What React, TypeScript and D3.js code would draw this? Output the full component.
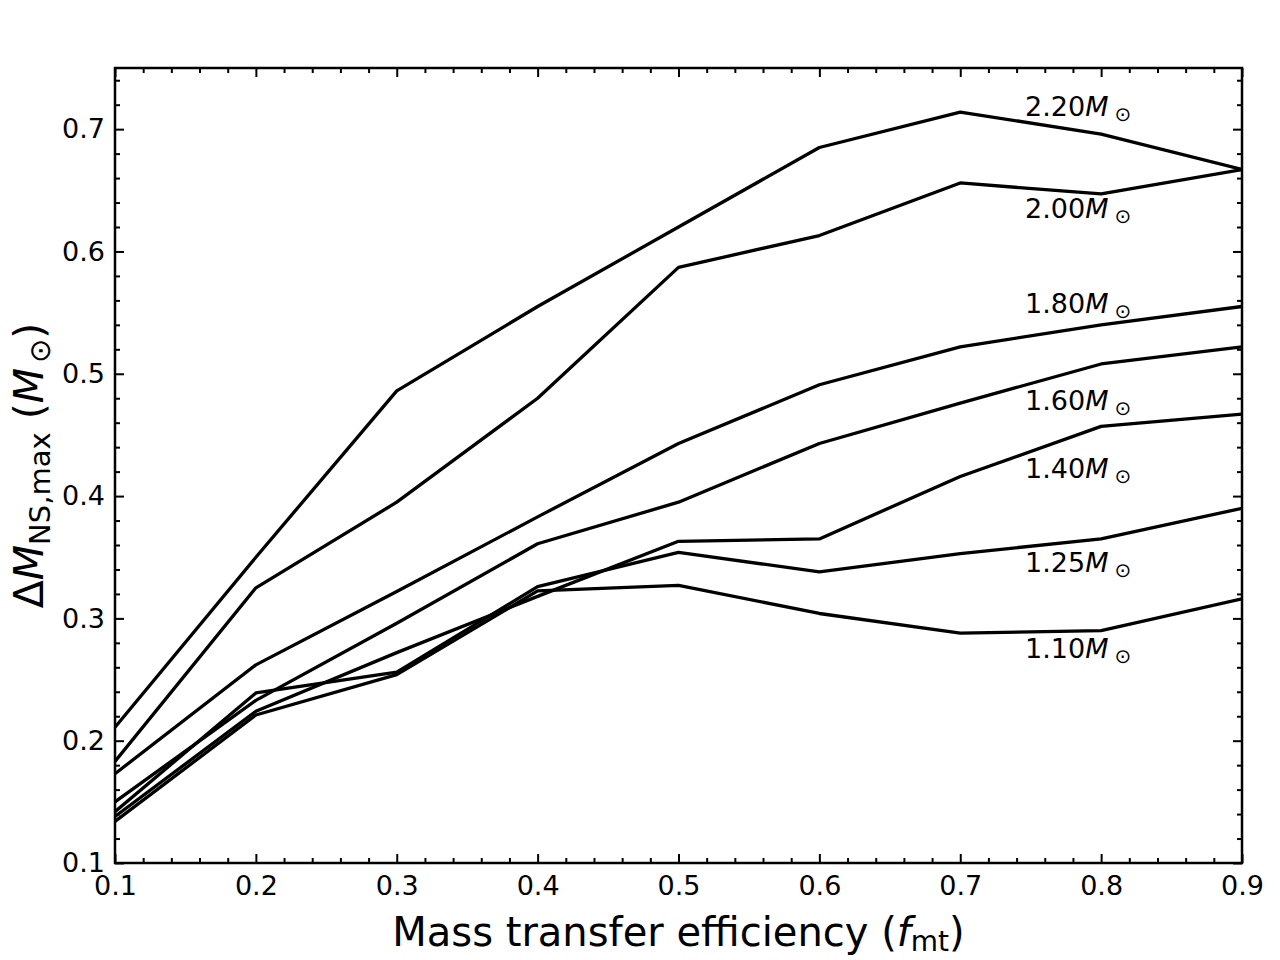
import { useRef, useEffect } from 'react';
import * as d3 from 'd3';

// mass transfer efficiency f_mt
const efficiency = [0.1, 0.2, 0.3, 0.4, 0.5, 0.6, 0.7, 0.8, 0.9];

// max accreted mass per initial NS mass
const dm220 = [0.211, 0.350, 0.486, 0.555, 0.620, 0.685, 0.714, 0.696, 0.667];
const dm200 = [0.183, 0.325, 0.395, 0.480, 0.587, 0.613, 0.656, 0.647, 0.667];
const dm180 = [0.173, 0.262, 0.322, 0.383, 0.443, 0.491, 0.522, 0.540, 0.555];
const dm160 = [0.150, 0.233, 0.296, 0.361, 0.395, 0.443, 0.476, 0.508, 0.522];
const dm140 = [0.138, 0.224, 0.272, 0.318, 0.363, 0.365, 0.416, 0.457, 0.467];
const dm125 = [0.142, 0.239, 0.256, 0.326, 0.354, 0.338, 0.353, 0.365, 0.390];
const dm110 = [0.134, 0.221, 0.254, 0.3225, 0.327, 0.304, 0.288, 0.290, 0.316];

const massLabels = ['2.20', '2.00', '1.80', '1.60', '1.40', '1.25', '1.10'];
const labelY = [0.711, 0.627, 0.550, 0.470, 0.415, 0.338, 0.268];
const labelX = 0.746;

const xTicks = [0.1, 0.2, 0.3, 0.4, 0.5, 0.6, 0.7, 0.8, 0.9];
const yTicks = [0.1, 0.2, 0.3, 0.4, 0.5, 0.6, 0.7];

const W = 1280;
const H = 960;
const margin = { left: 115, right: 38, top: 68, bottom: 97 };
const FONT = '"DejaVu Sans", sans-serif';

export default function App() {
    const svgRef = useRef<SVGSVGElement>(null);

    useEffect(() => {
        if (!svgRef.current) return;
        const svg = d3.select(svgRef.current);
        svg.selectAll('*').remove();

        const series = [dm220, dm200, dm180, dm160, dm140, dm125, dm110];

        const x = d3.scaleLinear().domain([0.1, 0.9]).range([margin.left, W - margin.right]);
        const y = d3.scaleLinear().domain([0.1, 0.75]).range([H - margin.bottom, margin.top]);

        const fmt = d3.format('.1f');
        const xMinor = d3.range(0.1, 0.9001, 0.02).filter(v => Math.abs(v * 10 - Math.round(v * 10)) > 1e-6);
        const yMinor = d3.range(0.1, 0.7501, 0.02).filter(v => Math.abs(v * 10 - Math.round(v * 10)) > 1e-6);

        svg.append('defs').append('clipPath').attr('id', 'plot-clip')
            .append('rect')
            .attr('x', margin.left).attr('y', margin.top)
            .attr('width', W - margin.left - margin.right)
            .attr('height', H - margin.top - margin.bottom);

        // lines
        const line = d3.line<number>()
            .x((_, i) => x(efficiency[i]))
            .y(d => y(d));

        svg.append('g').attr('clip-path', 'url(#plot-clip)')
            .selectAll('path')
            .data(series)
            .enter()
            .append('path')
            .attr('d', d => line(d) as string)
            .attr('fill', 'none')
            .attr('stroke', '#000')
            .attr('stroke-width', 3.3)
            .attr('stroke-linejoin', 'round');

        // axes, ticks pointing inwards on all four sides
        const styleAxis = (g: any, labels: boolean) => {
            g.select('.domain').remove();
            g.selectAll('.tick line').attr('stroke', '#000').attr('stroke-width', 2);
            g.selectAll('.tick text')
                .attr('fill', '#000')
                .style('font-family', FONT)
                .style('font-size', '27px');
            if (!labels) g.selectAll('.tick text').remove();
        };

        const bottom = H - margin.bottom;
        const right = W - margin.right;

        svg.append('g').attr('transform', `translate(0,${bottom})`)
            .call(d3.axisBottom(x).tickValues(xTicks).tickSize(-9).tickPadding(13).tickFormat(d => fmt(d as number)))
            .call(g => styleAxis(g, true));
        svg.append('g').attr('transform', `translate(0,${bottom})`)
            .call(d3.axisBottom(x).tickValues(xMinor).tickSize(-5).tickFormat(() => ''))
            .call(g => styleAxis(g, false));
        svg.append('g').attr('transform', `translate(0,${margin.top})`)
            .call(d3.axisTop(x).tickValues(xTicks).tickSize(-9).tickFormat(() => ''))
            .call(g => styleAxis(g, false));
        svg.append('g').attr('transform', `translate(0,${margin.top})`)
            .call(d3.axisTop(x).tickValues(xMinor).tickSize(-5).tickFormat(() => ''))
            .call(g => styleAxis(g, false));

        svg.append('g').attr('transform', `translate(${margin.left},0)`)
            .call(d3.axisLeft(y).tickValues(yTicks).tickSize(-9).tickPadding(10).tickFormat(d => fmt(d as number)))
            .call(g => styleAxis(g, true));
        svg.append('g').attr('transform', `translate(${margin.left},0)`)
            .call(d3.axisLeft(y).tickValues(yMinor).tickSize(-5).tickFormat(() => ''))
            .call(g => styleAxis(g, false));
        svg.append('g').attr('transform', `translate(${right},0)`)
            .call(d3.axisRight(y).tickValues(yTicks).tickSize(-9).tickFormat(() => ''))
            .call(g => styleAxis(g, false));
        svg.append('g').attr('transform', `translate(${right},0)`)
            .call(d3.axisRight(y).tickValues(yMinor).tickSize(-5).tickFormat(() => ''))
            .call(g => styleAxis(g, false));

        // frame
        svg.append('rect')
            .attr('x', margin.left).attr('y', margin.top)
            .attr('width', W - margin.left - margin.right)
            .attr('height', H - margin.top - margin.bottom)
            .attr('fill', 'none')
            .attr('stroke', '#000')
            .attr('stroke-width', 2.5);

        // mass labels
        const lbl = svg.append('g')
            .style('font-family', FONT)
            .style('font-size', '27px')
            .attr('fill', '#000');
        massLabels.forEach((m, i) => {
            const t = lbl.append('text').attr('x', x(labelX)).attr('y', y(labelY[i]));
            t.append('tspan').text(m);
            t.append('tspan').style('font-style', 'italic').text('M');
            t.append('tspan').attr('dx', 6).attr('dy', 5).style('font-size', '20px').text('\u2299');
        });

        // x label
        const xl = svg.append('text')
            .attr('x', (margin.left + right) / 2)
            .attr('y', 946)
            .attr('text-anchor', 'middle')
            .style('font-family', FONT)
            .style('font-size', '40px')
            .attr('fill', '#000');
        xl.append('tspan').text('Mass transfer efficiency (');
        xl.append('tspan').style('font-style', 'italic').text('f');
        xl.append('tspan').attr('dy', 5).style('font-size', '28px').text('mt');
        xl.append('tspan').attr('dy', -5).text(')');

        // y label
        const yl = svg.append('text')
            .attr('transform', `translate(43,${(margin.top + bottom) / 2}) rotate(-90)`)
            .attr('text-anchor', 'middle')
            .style('font-family', FONT)
            .style('font-size', '41px')
            .attr('fill', '#000');
        yl.append('tspan').text('\u0394');
        yl.append('tspan').style('font-style', 'italic').text('M');
        yl.append('tspan').attr('dy', 7).style('font-size', '29px').text('NS,max');
        yl.append('tspan').attr('dy', -7).text(' (');
        yl.append('tspan').style('font-style', 'italic').text('M');
        yl.append('tspan').attr('dx', 5).attr('dy', 7).style('font-size', '29px').text('\u2299');
        yl.append('tspan').attr('dy', -7).text(')');
    }, []);

    return (
        <svg
            ref={svgRef}
            width={W}
            height={H}
            style={{ position: 'absolute', left: 0, top: 0, background: '#fff' }}
        />
    );
}
